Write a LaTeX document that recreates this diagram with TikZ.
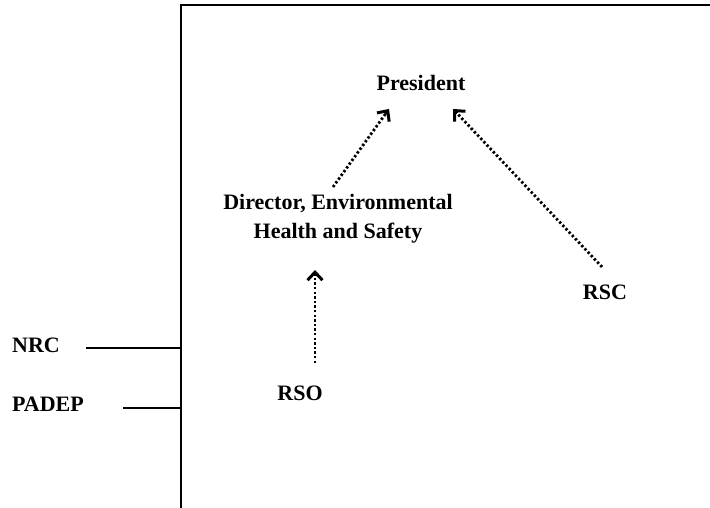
\documentclass[tikz,border=0pt]{standalone}
\usepackage{fontspec}
\setmainfont{Liberation Serif}
\usetikzlibrary{arrows.meta,calc}
\begin{document}
\begin{tikzpicture}[x=1pt,y=-1pt,
  lbl/.style={font=\fontsize{22}{29}\selectfont\bfseries, inner sep=0pt, align=center},
  frame/.style={line width=1.8pt},
  tick/.style={line width=1.6pt},
  rel/.style={line width=2.8pt, dash pattern=on 2.4pt off 2.2pt},
  tip/.style={line width=3pt, -{Straight Barb[length=8pt,width=15pt,line width=3pt]}}]
\useasboundingbox (0,0) rectangle (710,508);
\coordinate (top) at (181,5);
\coordinate (topr) at (710,5);
\coordinate (bot) at (181,508);
\draw[frame] (topr) -- (top) -- (bot);
\node[lbl] (pres) at (421,83) {President};
\node[lbl] (dir) at (338,219) {Director, Environmental\\Health and Safety};
\node[lbl] (rsc) at (605,292) {RSC};
\node[lbl] (rso) at (300,393) {RSO};
\node[lbl] (nrc) at (36,345) {NRC};
\node[lbl] (padep) at (48,404) {PADEP};
\coordinate (nrcE) at (86,348);
\coordinate (nrcW) at (181,348);
\coordinate (padE) at (123,408);
\coordinate (padW) at (181,408);
\draw[tick] (nrcE) -- (nrcW);
\draw[tick] (padE) -- (padW);
\coordinate (d1) at (333,187);
\coordinate (p1) at (389,109);
\coordinate (c1) at (602,267);
\coordinate (p2) at (453,109);
\coordinate (s1) at (315,363);
\coordinate (s2) at (315,270);
\draw[rel] (d1) -- ($(p1)!4pt!(d1)$);
\draw[tip] ($(p1)!6pt!(d1)$) -- (p1);
\draw[rel] (c1) -- ($(p2)!4pt!(c1)$);
\draw[tip] ($(p2)!6pt!(c1)$) -- (p2);
\draw[rel] (s1) -- ($(s2)!4pt!(s1)$);
\draw[tip] ($(s2)!6pt!(s1)$) -- (s2);
\end{tikzpicture}
\end{document}
